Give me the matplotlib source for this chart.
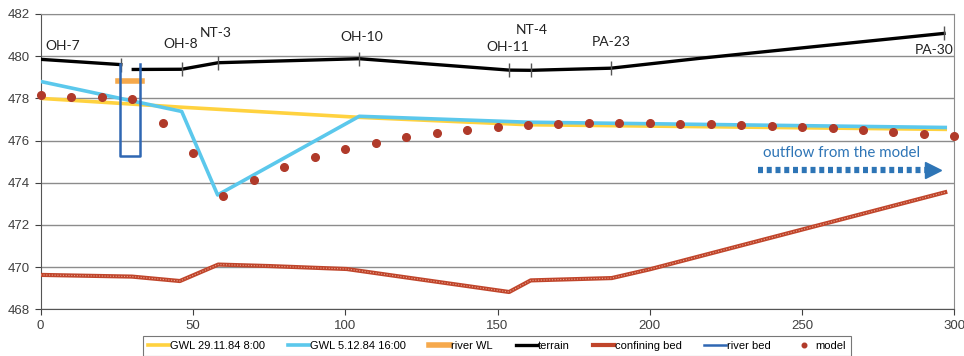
import numpy as np
import matplotlib
matplotlib.use("Agg")
import matplotlib.pyplot as plt

# dati
terrain_x = [0, 26.3, 30.4, 46.3, 58.3, 104.6, 153.8, 160.9, 187.2, 216.5, 296.6]
terrain_y = [479.85, 479.6, 479.37, 479.38, 479.69, 479.88, 479.34, 479.33, 479.43, 479.9, 481.08]
terrain_ticks_x = [26.3, 46.3, 58.3, 104.6, 153.8, 160.9, 187.2, 296.6]

gwl1_x = [0, 46.3, 104.6, 160, 297]
gwl1_y = [478.0, 477.58, 477.1, 476.75, 476.53]

gwl2_x = [0, 46.3, 58.1, 104.6, 160, 297]
gwl2_y = [478.8, 477.38, 473.42, 477.15, 476.87, 476.62]

riverwl_x = [25.5, 33.2]
riverwl_y = [478.82, 478.82]

riverbed_x = [26.0, 26.0, 32.5, 32.5]
riverbed_y = [479.63, 475.28, 475.28, 479.65]

conf_x = [0, 30, 45.7, 58.3, 75, 100.5, 153.8, 160.9, 187.5, 200.1, 297]
conf_y = [469.63, 469.55, 469.34, 470.12, 470.05, 469.91, 468.82, 469.37, 469.48, 469.9, 473.55]

model_x = np.arange(0, 301, 10)
model_y = [478.16, 478.08, 478.05, 477.98, 476.82, 475.39, 473.39, 474.14, 474.73, 475.22,
           475.6, 475.9, 476.15, 476.36, 476.51, 476.64, 476.72, 476.77, 476.82, 476.82,
           476.82, 476.78, 476.77, 476.74, 476.69, 476.63, 476.58, 476.49, 476.41, 476.31,
           476.23]

labels = ["OH-7", "OH-8", "NT-3", "OH-10", "NT-4", "OH-11", "PA-23", "PA-30"]
labels_x = [7.3, 46.1, 57.6, 105.3, 161.1, 153.4, 187.2, 293.5]
labels_y = [480.5, 480.6, 481.1, 480.9, 481.24, 480.45, 480.69, 480.3]

fig = plt.figure(figsize=(9.64, 3.56), dpi=100)
ax = fig.add_axes([0.0422, 0.1312, 0.9478, 0.8295])

ax.plot(gwl1_x, gwl1_y, color="#FFD23F", lw=2.6, label="GWL 29.11.84 8:00", zorder=3)
ax.plot(gwl2_x, gwl2_y, color="#5BC8EC", lw=2.6, label="GWL 5.12.84 16:00", zorder=4)
ax.plot(riverwl_x, riverwl_y, color="#F6A94C", lw=4, label="river WL", zorder=4)
ax.plot(terrain_x[:2], terrain_y[:2], color="black", lw=2.4, zorder=5, label="terrain")
ax.plot(terrain_x[2:], terrain_y[2:], color="black", lw=2.4, zorder=5)
ax.plot(terrain_ticks_x, np.interp(terrain_ticks_x, terrain_x, terrain_y), ls="none",
        marker="|", ms=10, mew=1, color="#555555", zorder=6)
ax.plot(conf_x, conf_y, color="#C0452B", lw=3.0, label="confining bed", zorder=3)
ax.plot(conf_x, conf_y, color="#E9A48F", lw=0.8, ls=(0, (1, 1.5)), zorder=3)
ax.plot(riverbed_x, riverbed_y, color="#2F67B3", lw=1.8, label="river bed", zorder=6)
ax.plot(model_x, model_y, ls="none", marker="o", ms=5.5, color="#B03A2A", label="model",
        zorder=7, clip_on=False)

for t, x, y in zip(labels, labels_x, labels_y):
    ax.text(x, y, t, ha="center", va="center", fontsize=10, family="Lato", color="#222222")

ax.text(263, 475.4, "outflow from the model", ha="center", va="center", fontsize=10.8,
        family="Lato", color="#2E75B6")
ax.plot([235.6, 291], [474.62, 474.62], color="#2E75B6", lw=4.5, ls=(0, (0.8, 0.6)))
ax.plot([293], [474.62], marker=">", ms=12, color="#2E75B6", ls="none")

ax.set_xlim(0, 300)
ax.set_ylim(468, 482)
ax.set_xticks(np.arange(0, 301, 50))
ax.set_yticks(np.arange(468, 483, 2))
ax.yaxis.grid(True, color="#8C8C8C", lw=1)
ax.set_axisbelow(True)
for s in ["top", "right"]:
    ax.spines[s].set_color("#8C8C8C")
for s in ["left", "bottom"]:
    ax.spines[s].set_color("#555555")
ax.tick_params(labelsize=9.5, colors="#404040", length=4, direction="out")
for lab in ax.get_xticklabels() + ax.get_yticklabels():
    lab.set_family("Liberation Sans")

leg = fig.legend(loc="upper center", bbox_to_anchor=(0.5156, 0.0562), ncol=7,
                 frameon=True, fancybox=False, edgecolor="#555555", borderaxespad=0,
                 handlelength=1.9, handletextpad=0.1, columnspacing=2.05, borderpad=0.45,
                 markerscale=0.6, prop={"family": "Liberation Sans", "size": 8})
leg.get_frame().set_linewidth(0.8)

fig.savefig("out.png", dpi=100)
